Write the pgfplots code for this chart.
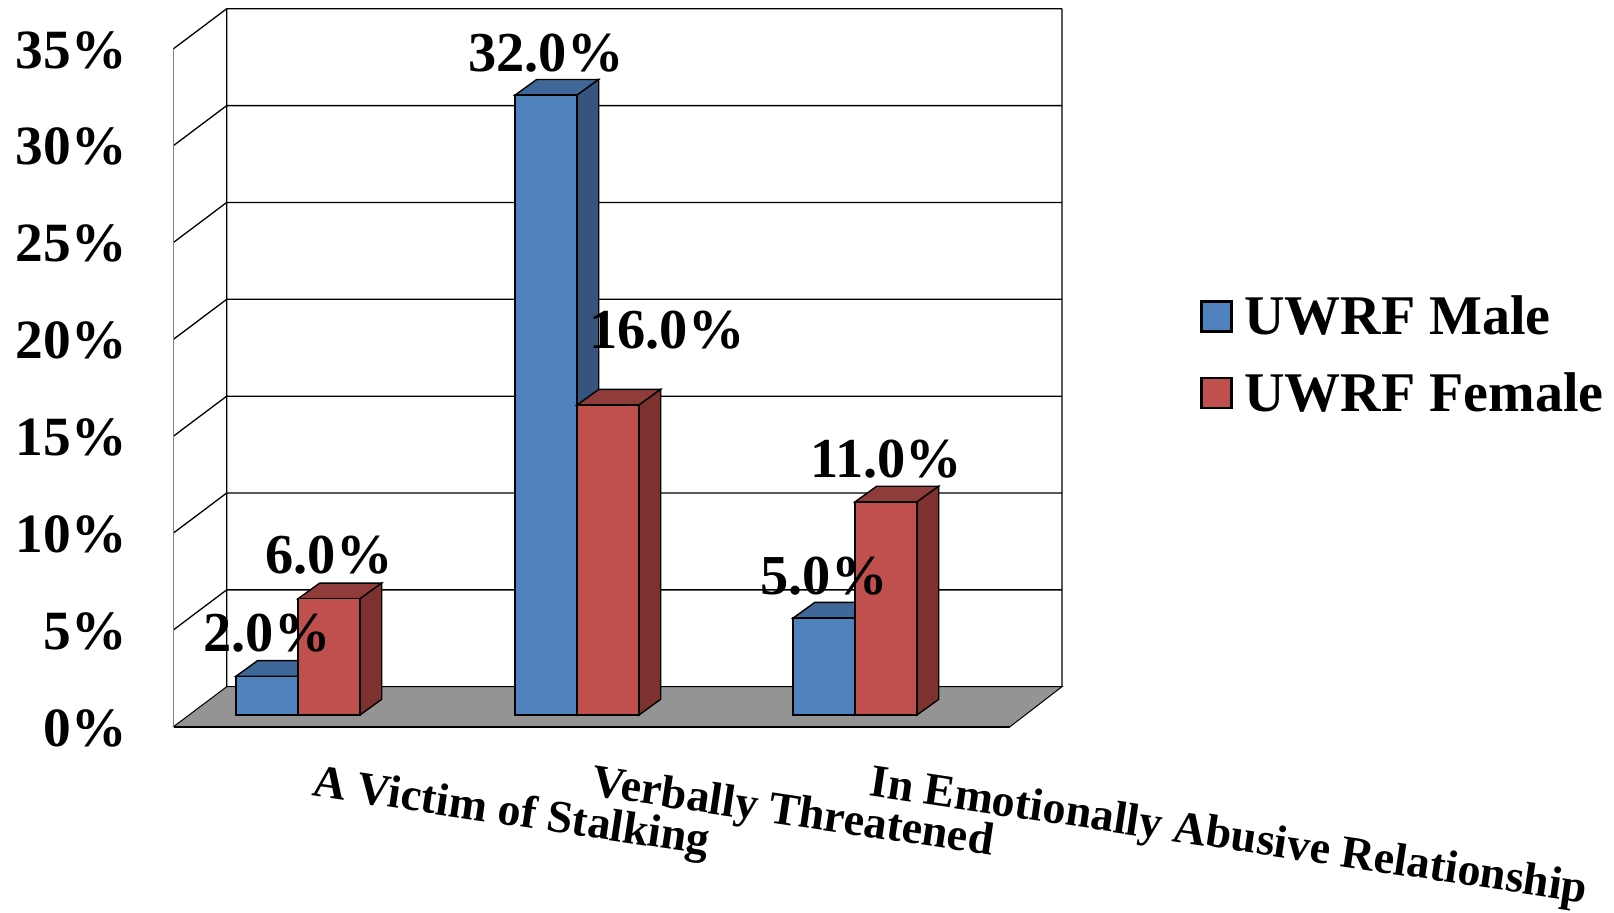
\documentclass[border=0pt]{standalone}
\usepackage{fontspec}
\setmainfont{Liberation Serif}
\usepackage{pgfplots}
\usepackage{pgfplotstable}
\pgfplotsset{compat=1.18}

\definecolor{maleface}{HTML}{4F81BD}
\definecolor{maletop}{HTML}{3F6797}
\definecolor{maleside}{HTML}{35557E}
\definecolor{femaleface}{HTML}{C0504D}
\definecolor{femaletop}{HTML}{903C3A}
\definecolor{femaleside}{HTML}{7D3230}
\definecolor{floorgray}{HTML}{949494}

% left edge, height of a bar: draws its top and right faces
\newcommand{\barfaces}[4]{%
  \pgfmathsetmacro{\xr}{#1+62}%
  \pgfmathsetmacro{\xlb}{#1+21.7}%
  \pgfmathsetmacro{\xrb}{#1+62+21.7}%
  \pgfmathsetmacro{\vb}{#2+0.81}%
  \addplot[forget plot,fill=#3,draw=black,line width=0.7pt] coordinates {(#1,#2) (\xr,#2) (\xrb,\vb) (\xlb,\vb)} -- cycle;
  \addplot[forget plot,fill=#4,draw=black,line width=0.7pt] coordinates {(\xr,0) (\xr,#2) (\xrb,\vb) (\xrb,0.81)} -- cycle;
}

\pgfplotstableread{
x   male
267 2
546 32
824 5
}\maledata
\pgfplotstableread{
x   female
329 6
608 16
886 11
}\femaledata
\pgfplotstableread{
x   v  dx dy
265 2  1 12.5
327 6  1 12.5
544 32 1 12
665 16 1 28.5
822 5  1 12
884 11 1 12
}\labeldata

\begin{document}
\begin{tikzpicture}
\begin{axis}[
    scale only axis,
    width=807pt,
    height=456.5pt,
    xmin=0, xmax=1614,
    ymin=-10.222, ymax=36.913,
    axis line style={draw=none},
    major tick length=0pt,
    tick style={draw=none},
    xtick={297.7,577.3,855},
    xticklabels={A Victim of Stalking,Verbally Threatened,In Emotionally Abusive Relationship},
    xticklabel style={font=\fontsize{23}{23}\selectfont\bfseries,rotate=-8.5,anchor=base west,inner sep=0pt,xshift=-2.25pt,yshift=59pt},
    ytick={0,5,...,35},
    yticklabel={\pgfmathprintnumber[assume math mode=true]{\tick}\%},
    yticklabel style={font=\fontsize{27.7}{27.7}\selectfont\bfseries,anchor=east,inner sep=0pt,xshift=63.5pt,yshift=-6.5pt},
    bar width=62,
    unbounded coords=jump,
    legend style={draw=none,fill=none,at={(1200/1614,1-291/913)},anchor=north west,
        font=\fontsize{28}{28}\selectfont\bfseries,row sep=13.5pt,inner sep=0pt},
    legend cell align=left,
    legend image code/.code={\draw[#1,line width=1.3pt] (0pt,-7.5pt) rectangle (15pt,7.5pt); \path (19pt,0pt);},
]
% floor and walls
\addplot[forget plot,fill=floorgray,draw=black,line width=0.5pt] coordinates {(173.5,-0.604) (1010,-0.604) (1062,1.46) (226.7,1.46)} -- cycle;
\addplot[forget plot,draw=black,line width=0.65pt] coordinates {
 (173.5,4.396) (226.7,6.46) (1062,6.46) (nan,nan)
 (173.5,9.396) (226.7,11.46) (1062,11.46) (nan,nan)
 (173.5,14.396) (226.7,16.46) (1062,16.46) (nan,nan)
 (173.5,19.396) (226.7,21.46) (1062,21.46) (nan,nan)
 (173.5,24.396) (226.7,26.46) (1062,26.46) (nan,nan)
 (173.5,29.396) (226.7,31.46) (1062,31.46) (nan,nan)
 (173.5,34.396) (226.7,36.46) (1062,36.46) (nan,nan)
 (226.7,1.46) (226.7,36.46) (nan,nan)
 (1062,1.46) (1062,36.46)
};
\addplot[forget plot,draw=gray,line width=0.7pt] coordinates {(173.5,-0.604) (173.5,34.396)};
\addplot[forget plot,draw=black,line width=1.1pt] coordinates {(173.5,-0.604) (1010,-0.604)};

% male bars
\barfaces{236}{2}{maletop}{maleside}
\barfaces{515}{32}{maletop}{maleside}
\barfaces{793}{5}{maletop}{maleside}
\addplot[ybar,bar shift=0pt,fill=maleface,draw=black,line width=0.7pt] table[x=x,y=male] {\maledata};
\addlegendentry{UWRF Male}

% female bars
\barfaces{298}{6}{femaletop}{femaleside}
\barfaces{577}{16}{femaletop}{femaleside}
\barfaces{855}{11}{femaletop}{femaleside}
\addplot[ybar,bar shift=0pt,fill=femaleface,draw=black,line width=0.7pt] table[x=x,y=female] {\femaledata};
\addlegendentry{UWRF Female}

% value labels go last, they sit on top of the bars
\addplot[forget plot,draw=none,mark=none,
    point meta=y,
    visualization depends on={\thisrow{dx} \as \labeldx},
    visualization depends on={\thisrow{dy} \as \labeldy},
    nodes near coords={\pgfmathprintnumber[fixed,fixed zerofill,precision=1,assume math mode=true]{\pgfplotspointmeta}\%},
    every node near coord/.append style={font=\fontsize{28.2}{28.2}\selectfont\bfseries,anchor=base,inner sep=0pt,xshift=\labeldx pt,yshift=\labeldy pt},
] table[x=x,y=v] {\labeldata};
\end{axis}
\end{tikzpicture}
\end{document}
